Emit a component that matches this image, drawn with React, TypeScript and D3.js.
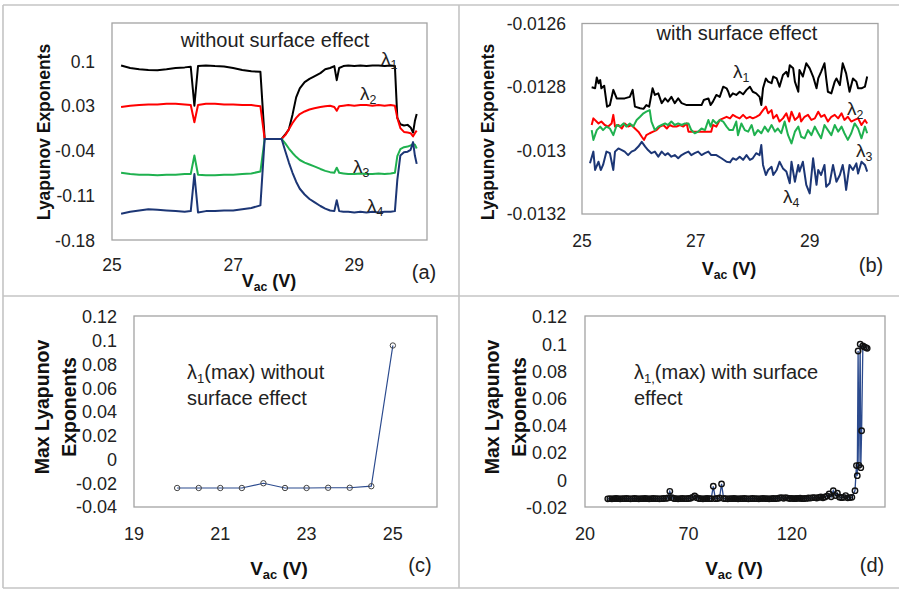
import React from 'react';
import * as d3 from 'd3';

const FONT = "'Liberation Sans', Arial, sans-serif";

// ---------- Panel (a): without surface effect ----------
const aX = [25.15,25.3,25.45,25.6,25.75,25.9,26.05,26.2,26.3,26.36,26.42,26.55,26.7,26.85,27.0,27.15,27.3,27.45,27.52,27.6,27.7,27.8,27.86,27.92,27.98,28.04,28.1,28.18,28.26,28.34,28.44,28.52,28.6,28.67,28.71,28.75,28.82,28.9,29.0,29.1,29.2,29.3,29.4,29.5,29.6,29.67,29.71,29.76,29.82,29.88,29.93,29.97,30.0,30.03];
const aL1 = [0.094,0.090,0.088,0.087,0.0865,0.088,0.090,0.091,0.092,0.031,0.093,0.094,0.093,0.0925,0.090,0.087,0.085,0.084,-0.021,-0.021,-0.021,-0.021,-0.014,-0.006,0.017,0.044,0.058,0.068,0.073,0.077,0.082,0.088,0.090,0.093,0.071,0.090,0.093,0.094,0.093,0.094,0.093,0.094,0.094,0.093,0.094,0.093,0.012,0.002,0.0,0.001,-0.003,-0.011,0.007,0.018];
const aL2 = [0.029,0.031,0.032,0.033,0.033,0.034,0.034,0.033,0.032,0.005,0.032,0.034,0.034,0.033,0.033,0.032,0.032,0.030,-0.021,-0.021,-0.021,-0.021,-0.015,-0.006,0.004,0.012,0.018,0.022,0.025,0.027,0.029,0.030,0.031,0.029,0.023,0.030,0.031,0.032,0.031,0.032,0.032,0.031,0.032,0.031,0.032,0.031,0.012,-0.004,-0.010,-0.011,-0.012,-0.017,-0.012,-0.008];
const aL3 = [-0.074,-0.076,-0.077,-0.077,-0.078,-0.077,-0.077,-0.076,-0.076,-0.047,-0.077,-0.078,-0.078,-0.077,-0.077,-0.076,-0.075,-0.072,-0.021,-0.021,-0.021,-0.021,-0.028,-0.036,-0.043,-0.049,-0.054,-0.058,-0.061,-0.064,-0.068,-0.071,-0.073,-0.074,-0.066,-0.074,-0.075,-0.076,-0.076,-0.075,-0.076,-0.076,-0.075,-0.076,-0.075,-0.074,-0.048,-0.037,-0.034,-0.033,-0.031,-0.029,-0.030,-0.036];
const aL4 = [-0.138,-0.135,-0.133,-0.131,-0.132,-0.133,-0.134,-0.135,-0.134,-0.076,-0.136,-0.134,-0.134,-0.133,-0.133,-0.131,-0.129,-0.125,-0.021,-0.021,-0.021,-0.021,-0.040,-0.058,-0.074,-0.088,-0.099,-0.108,-0.115,-0.120,-0.126,-0.130,-0.133,-0.134,-0.117,-0.134,-0.135,-0.135,-0.136,-0.135,-0.136,-0.135,-0.136,-0.135,-0.135,-0.134,-0.085,-0.047,-0.042,-0.041,-0.038,-0.026,-0.047,-0.060];
const aXTicks = [25, 27, 29];
const aYTicks = [-0.18, -0.11, -0.04, 0.03, 0.1];

// ---------- Panel (b): with surface effect ([V, exponent]) ----------
const bL1 = [[25.17,-0.012800],[25.23,-0.012803],[25.26,-0.012769],[25.29,-0.012787],[25.32,-0.012777],[25.34,-0.012803],[25.39,-0.012795],[25.44,-0.012861],[25.49,-0.012856],[25.55,-0.012808],[25.61,-0.012835],[25.75,-0.012835],[25.84,-0.012830],[25.89,-0.012808],[25.93,-0.012861],[26.02,-0.012866],[26.08,-0.012868],[26.13,-0.012856],[26.18,-0.012861],[26.24,-0.012803],[26.28,-0.012824],[26.34,-0.012819],[26.40,-0.012850],[26.46,-0.012835],[26.51,-0.012845],[26.57,-0.012830],[26.63,-0.012850],[26.69,-0.012835],[26.75,-0.012850],[26.84,-0.012856],[27.10,-0.012856],[27.14,-0.012840],[27.22,-0.012835],[27.26,-0.012856],[27.30,-0.012845],[27.36,-0.012824],[27.42,-0.012830],[27.48,-0.012798],[27.54,-0.012803],[27.57,-0.012814],
  [27.60,-0.012830],[27.65,-0.012819],[27.71,-0.012824],[27.77,-0.012814],[27.83,-0.012822],[27.89,-0.012808],[27.95,-0.012798],[28.00,-0.012814],[28.06,-0.012819],[28.12,-0.012830],[28.15,-0.012856],[28.18,-0.012803],[28.23,-0.012772],[28.27,-0.012782],[28.33,-0.012787],[28.36,-0.012766],[28.42,-0.012772],[28.47,-0.012798],[28.53,-0.012761],[28.59,-0.012751],[28.62,-0.012766],[28.65,-0.012730],[28.71,-0.012740],[28.74,-0.012782],[28.80,-0.012814],[28.82,-0.012745],[28.88,-0.012766],[28.94,-0.012724],[29.00,-0.012740],[29.06,-0.012766],[29.12,-0.012803],[29.15,-0.012772],[29.20,-0.012751],[29.26,-0.012724],[29.29,-0.012772],[29.32,-0.012814],[29.38,-0.012819],[29.44,-0.012782],[29.47,-0.012772],[29.53,-0.012793],[29.58,-0.012724],[29.61,-0.012740],[29.64,-0.012756],[29.70,-0.012814],[29.76,-0.012772],[29.82,-0.012782],[29.85,-0.012803],[29.91,-0.012803],[29.97,-0.012798],[30.01,-0.012766]];
const bL2 = [[25.17,-0.012919],[25.20,-0.012898],[25.29,-0.012914],[25.34,-0.012908],[25.40,-0.012919],[25.46,-0.012924],[25.52,-0.012914],[25.55,-0.012887],[25.58,-0.012924],[25.64,-0.012919],[25.70,-0.012930],[25.75,-0.012914],[25.81,-0.012924],[25.87,-0.012919],[25.93,-0.012930],[25.99,-0.012940],[26.05,-0.012956],[26.09,-0.012966],[26.13,-0.012951],[26.19,-0.012945],[26.25,-0.012940],[26.31,-0.012935],[26.37,-0.012924],[26.43,-0.012919],[26.49,-0.012930],[26.54,-0.012919],[26.60,-0.012924],[26.66,-0.012924],[26.72,-0.012919],[26.78,-0.012924],[26.84,-0.012914],[26.87,-0.012940],[27.27,-0.012940],[27.30,-0.012919],[27.36,-0.012924],[27.42,-0.012903],[27.48,-0.012898],[27.54,-0.012893],
  [27.60,-0.012898],[27.65,-0.012887],[27.71,-0.012893],[27.77,-0.012898],[27.83,-0.012887],[27.89,-0.012898],[27.95,-0.012893],[28.00,-0.012898],[28.06,-0.012893],[28.12,-0.012887],[28.18,-0.012872],[28.23,-0.012861],[28.27,-0.012882],[28.33,-0.012872],[28.36,-0.012898],[28.42,-0.012887],[28.47,-0.012908],[28.53,-0.012898],[28.59,-0.012882],[28.64,-0.012908],[28.68,-0.012877],[28.74,-0.012903],[28.80,-0.012893],[28.82,-0.012882],[28.85,-0.012908],[28.91,-0.012893],[28.97,-0.012887],[29.03,-0.012903],[29.09,-0.012898],[29.15,-0.012877],[29.20,-0.012893],[29.26,-0.012887],[29.32,-0.012908],[29.38,-0.012893],[29.44,-0.012887],[29.50,-0.012898],[29.56,-0.012882],[29.61,-0.012903],[29.67,-0.012893],[29.73,-0.012908],[29.79,-0.012903],[29.85,-0.012898],[29.91,-0.012919],[29.97,-0.012903],[30.01,-0.012914]];
const bL3 = [[25.17,-0.012935],[25.20,-0.012966],[25.26,-0.012935],[25.32,-0.012924],[25.37,-0.012935],[25.43,-0.012924],[25.49,-0.012930],[25.55,-0.012951],[25.61,-0.012919],[25.67,-0.012924],[25.73,-0.012914],[25.78,-0.012924],[25.84,-0.012914],[25.90,-0.012924],[25.96,-0.012903],[26.02,-0.012893],[26.08,-0.012882],[26.13,-0.012877],[26.19,-0.012872],[26.22,-0.012908],[26.28,-0.012935],[26.34,-0.012924],[26.40,-0.012919],[26.46,-0.012914],[26.51,-0.012919],[26.57,-0.012908],[26.63,-0.012919],[26.69,-0.012914],[26.75,-0.012919],[26.81,-0.012914],[26.87,-0.012914],[26.92,-0.012935],[26.98,-0.012945],[27.04,-0.012940],[27.10,-0.012930],[27.16,-0.012935],[27.22,-0.012903],[27.26,-0.012924],[27.30,-0.012903],[27.36,-0.012914],[27.42,-0.012903],[27.48,-0.012908],[27.54,-0.012924],[27.59,-0.012935],
  [27.65,-0.012935],[27.71,-0.012908],[27.74,-0.012951],[27.80,-0.012914],[27.86,-0.012935],[27.92,-0.012940],[27.98,-0.012919],[28.03,-0.012951],[28.09,-0.012935],[28.15,-0.012945],[28.21,-0.012924],[28.27,-0.012940],[28.33,-0.012919],[28.39,-0.012940],[28.44,-0.012930],[28.50,-0.012945],[28.56,-0.012908],[28.62,-0.012951],[28.68,-0.012977],[28.74,-0.012940],[28.80,-0.012924],[28.85,-0.012956],[28.91,-0.012961],[28.97,-0.012935],[29.03,-0.012951],[29.09,-0.012924],[29.15,-0.012945],[29.20,-0.012961],[29.26,-0.012919],[29.32,-0.012935],[29.38,-0.012951],[29.44,-0.012919],[29.50,-0.012940],[29.56,-0.012924],[29.61,-0.012945],[29.67,-0.012966],[29.73,-0.012945],[29.79,-0.012914],[29.85,-0.012930],[29.91,-0.012961],[29.97,-0.012924],[30.01,-0.012945]];
const bL4 = [[25.14,-0.013040],[25.20,-0.013003],[25.23,-0.013061],[25.29,-0.013035],[25.33,-0.013061],[25.37,-0.013045],[25.43,-0.013003],[25.49,-0.013008],[25.55,-0.013061],[25.58,-0.013003],[25.64,-0.012993],[25.70,-0.012998],[25.75,-0.013003],[25.81,-0.013014],[25.87,-0.013003],[25.93,-0.012998],[25.99,-0.012987],[26.05,-0.012972],[26.11,-0.012987],[26.16,-0.012998],[26.22,-0.013008],[26.28,-0.013003],[26.34,-0.013019],[26.40,-0.013003],[26.46,-0.013014],[26.51,-0.013008],[26.57,-0.013019],[26.63,-0.013014],[26.69,-0.013024],[26.75,-0.013014],[26.81,-0.013008],[26.87,-0.013003],[26.92,-0.013014],[26.98,-0.013008],[27.04,-0.013003],[27.10,-0.013014],[27.16,-0.013008],[27.22,-0.013003],[27.27,-0.013014],[27.36,-0.013014],[27.45,-0.013024],[27.54,-0.013035],[27.60,-0.013037],
  [27.65,-0.013024],[27.71,-0.013029],[27.77,-0.013019],[27.83,-0.013029],[27.89,-0.013014],[27.95,-0.013029],[28.00,-0.013024],[28.06,-0.013008],[28.12,-0.013014],[28.15,-0.012982],[28.18,-0.013045],[28.23,-0.013077],[28.27,-0.013061],[28.33,-0.013051],[28.36,-0.013077],[28.42,-0.013061],[28.47,-0.013035],[28.53,-0.013056],[28.59,-0.013066],[28.65,-0.013103],[28.68,-0.013035],[28.74,-0.013098],[28.80,-0.013045],[28.82,-0.013066],[28.88,-0.013035],[28.94,-0.013108],[29.00,-0.013135],[29.06,-0.013024],[29.12,-0.013108],[29.15,-0.013061],[29.20,-0.013077],[29.26,-0.013045],[29.29,-0.013114],[29.35,-0.013103],[29.41,-0.013045],[29.47,-0.013098],[29.53,-0.013077],[29.58,-0.013045],[29.61,-0.013077],[29.64,-0.013124],[29.70,-0.013045],[29.76,-0.013061],[29.82,-0.013040],[29.85,-0.013072],[29.91,-0.013035],[29.97,-0.013045],[30.01,-0.013066]];
const bXTicks = [25, 27, 29];
const bYTicks = [-0.0132, -0.013, -0.0128, -0.0126];

// ---------- Panel (c): max exponent without surface effect ----------
const cX = [20, 20.5, 21, 21.5, 22, 22.5, 23, 23.5, 24, 24.5, 25];
const cY = [-0.024, -0.024, -0.024, -0.024, -0.020, -0.024, -0.024, -0.0238, -0.0238, -0.0225, 0.096];
const cXTicks = [19, 21, 23, 25];
const cYTicks = [-0.04, -0.02, 0, 0.02, 0.04, 0.06, 0.08, 0.1, 0.12];

// ---------- Panel (d): max exponent with surface effect ----------
const dBaseX = [31,32,33,34,35,36,37,38,39,40,41,42,43,44,45,46,47,48,49,50,51,52,53,54,55,56,57,58,59,60,61,62,63,64,65,66,67,68,69,70,71,72,73,74,75,76,77,78,79,80,81,82,83,84,85,86,87,88,89,90,91,92,93,94,95,96,97,98,99,100,101,102,103,104,105,106,107,108,109,110,111,112,113,114,115,116,117,118,119,120,121,122,123,124,125,126,127,128,129,130,131,132,133,134,135,136,137,138,139,140,141,142,143,144,145,146,147,148,149];
const dBaseY = [
  -0.0136,-0.0135,-0.0136,-0.0135,-0.0134,-0.0135,-0.0136,-0.0135,-0.0135,-0.0134,
  -0.0135,-0.0136,-0.0135,-0.0134,-0.0135,-0.0136,-0.0135,-0.0135,-0.0134,-0.0135,
  -0.0136,-0.0135,-0.0134,-0.0135,-0.0135,-0.0136,-0.0135,-0.0134,-0.0133,-0.0130,
  -0.0081,-0.0128,-0.0134,-0.0135,-0.0136,-0.0135,-0.0134,-0.0135,-0.0135,-0.0134,
  -0.0132,-0.0125,-0.0115,-0.0128,-0.0134,-0.0135,-0.0136,-0.0135,-0.0134,-0.0135,
  -0.0135,-0.0044,-0.0135,-0.0134,-0.0130,-0.0027,-0.0134,-0.0135,-0.0136,-0.0135,
  -0.0135,-0.0134,-0.0135,-0.0136,-0.0135,-0.0135,-0.0134,-0.0135,-0.0136,-0.0135,
  -0.0134,-0.0135,-0.0135,-0.0136,-0.0135,-0.0134,-0.0135,-0.0135,-0.0136,-0.0135,
  -0.0134,-0.0135,-0.0133,-0.0130,-0.0128,-0.0132,-0.0127,-0.0131,-0.0134,-0.0133,
  -0.0135,-0.0134,-0.0133,-0.0132,-0.0135,-0.0134,-0.0133,-0.0130,-0.0131,-0.0128,
  -0.0127,-0.0131,-0.0126,-0.0122,-0.0129,-0.0123,-0.0116,-0.0100,-0.0121,-0.0076,
  -0.0112,-0.0095,-0.0124,-0.0128,-0.0126,-0.0112,-0.0129,-0.0127,-0.0125];
const dJumpX = [150.5, 151.2, 151.6, 152.0, 152.4, 153.0, 153.3, 153.7, 154.3, 155.0, 155.8, 156.4];
const dJumpY = [-0.0076, 0.0108, 0.0034, 0.095, 0.011, 0.100, 0.0093, 0.0364, 0.0987, 0.098, 0.0975, 0.097];
const dXTicks = [20, 70, 120];
const dYTicks = [-0.02, 0, 0.02, 0.04, 0.06, 0.08, 0.1, 0.12];

const BLACK = '#000000';
const RED = '#ff0000';
const GREEN = '#1fb14f';
const NAVY = '#1c3675';
const LINE_CD = '#2b4a8e';

function Frame({ sx, sy, x0, x1, y0, y1, xTicks, yTicks, xLabY, yLabX, fs }: any) {
  return (
    <g>
      <rect x={x0} y={y0} width={x1 - x0} height={y1 - y0} fill="none" stroke="#a3a3a3" strokeWidth={1.3} />
      {xTicks.map((t: number) => (
        <text key={'x' + t} x={sx(t)} y={xLabY} textAnchor="middle" fontSize={fs} fill="#222">{String(t)}</text>
      ))}
      {yTicks.map((t: number) => (
        <text key={'y' + t} x={yLabX} y={sy(t)} dy="0.35em" textAnchor="end" fontSize={fs} fill="#222">{String(t)}</text>
      ))}
    </g>
  );
}

function Lam({ x, y, sub, fs = 19 }: any) {
  return (
    <text x={x} y={y} fontSize={fs} fill="#222">λ<tspan fontSize={fs * 0.65} dy={4}>{sub}</tspan></text>
  );
}

function VacTitle({ x, y, fs }: any) {
  return (
    <text x={x} y={y} textAnchor="middle" fontSize={fs} fontWeight="bold" fill="#111">
      V<tspan fontSize={fs * 0.68} dy={4}>ac</tspan><tspan dy={-4}> (V)</tspan>
    </text>
  );
}

export default function App() {
  const ax = d3.scaleLinear().domain([25, 30.2]).range([112, 427]);
  const ay = d3.scaleLinear().domain([-0.18, 0.16]).range([240.5, 23.3]);
  const aLine = (ys: number[]) => d3.line<number>().x((_, i) => ax(aX[i])).y((d) => ay(d))(ys) || '';

  const bx = d3.scaleLinear().domain([25, 30.2]).range([582, 878]);
  const by = d3.scaleLinear().domain([-0.0132, -0.0126]).range([214, 24]);
  const bLine = (pts: number[][]) => d3.line<number[]>().x((d) => bx(d[0])).y((d) => by(d[1]))(pts) || '';

  const cx = d3.scaleLinear().domain([19, 26]).range([134, 436]);
  const cy = d3.scaleLinear().domain([-0.04, 0.12]).range([507, 317]);
  const cPath = d3.line<number>().x((_, i) => cx(cX[i])).y((d) => cy(d))(cY) || '';

  const dx = d3.scaleLinear().domain([20, 165]).range([585, 885]);
  const dy = d3.scaleLinear().domain([-0.02, 0.12]).range([507.5, 317]);
  const dAllX = dBaseX.concat(dJumpX);
  const dAllY = dBaseY.concat(dJumpY);
  const dPath = d3.line<number>().x((_, i) => dx(dAllX[i])).y((d) => dy(d))(dAllY) || '';

  return (
    <svg width={899} height={589} style={{ position: 'absolute', left: 0, top: 0, background: '#fff' }} fontFamily={FONT}>
      <rect x={0} y={0} width={899} height={589} fill="#fff" />
      <g stroke="#c4c4c4" strokeWidth={1.6} fill="none">
        <line x1={3} y1={5} x2={899} y2={5} />
        <line x1={3} y1={5} x2={3} y2={588} />
        <line x1={459} y1={5} x2={459} y2={588} />
        <line x1={3} y1={296} x2={899} y2={296} />
        <line x1={3} y1={588} x2={899} y2={588} />
      </g>

      {/* (a) */}
      <Frame sx={ax} sy={ay} x0={112} x1={427} y0={23} y1={240} xTicks={aXTicks} yTicks={aYTicks} xLabY={271} yLabX={95} fs={17.5} />
      <g fill="none" strokeWidth={2} strokeLinejoin="round">
        <path d={aLine(aL1)} stroke={BLACK} />
        <path d={aLine(aL2)} stroke={RED} />
        <path d={aLine(aL3)} stroke={GREEN} />
        <path d={aLine(aL4)} stroke={NAVY} />
      </g>
      <text x={275} y={47} textAnchor="middle" fontSize={20} fill="#222">without surface effect</text>
      <Lam x={381} y={65} sub="1" />
      <Lam x={360} y={100} sub="2" />
      <Lam x={353} y={173} sub="3" />
      <Lam x={367} y={212} sub="4" />
      <text transform="translate(44,132) rotate(-90)" textAnchor="middle" dy="0.35em" fontSize={17.5} fontWeight="bold" fill="#111">Lyapunov Exponents</text>
      <VacTitle x={269} y={287} fs={18} />
      <text x={424} y={279} textAnchor="middle" fontSize={20} fill="#222">(a)</text>

      {/* (b) */}
      <Frame sx={bx} sy={by} x0={582} x1={878} y0={23.5} y1={214} xTicks={bXTicks} yTicks={bYTicks} xLabY={247} yLabX={566} fs={17.5} />
      <g fill="none" strokeWidth={2} strokeLinejoin="round">
        <path d={bLine(bL1)} stroke={BLACK} />
        <path d={bLine(bL2)} stroke={RED} />
        <path d={bLine(bL3)} stroke={GREEN} />
        <path d={bLine(bL4)} stroke={NAVY} />
      </g>
      <text x={737} y={40} textAnchor="middle" fontSize={20} fill="#222">with surface effect</text>
      <Lam x={733} y={78} sub="1" />
      <Lam x={847} y={115} sub="2" />
      <Lam x={856} y={157} sub="3" />
      <Lam x={783} y={203} sub="4" />
      <text transform="translate(488,132) rotate(-90)" textAnchor="middle" dy="0.35em" fontSize={17.5} fontWeight="bold" fill="#111">Lyapunov Exponents</text>
      <VacTitle x={729} y={275} fs={18} />
      <text x={871} y={272} textAnchor="middle" fontSize={20} fill="#222">(b)</text>

      {/* (c) */}
      <Frame sx={cx} sy={cy} x0={134} x1={437} y0={316} y1={507} xTicks={cXTicks} yTicks={cYTicks} xLabY={540} yLabX={117} fs={18} />
      <path d={cPath} fill="none" stroke={LINE_CD} strokeWidth={1.2} />
      {cX.map((v, i) => (
        <circle key={i} cx={cx(v)} cy={cy(cY[i])} r={2.7} fill="none" stroke="#444" strokeWidth={1} />
      ))}
      <text x={187} y={379} fontSize={20} fill="#222">λ<tspan fontSize={13} dy={4}>1</tspan><tspan dy={-4}>(max) without</tspan></text>
      <text x={187} y={405} fontSize={20} fill="#222">surface effect</text>
      <text transform="translate(42,407) rotate(-90)" textAnchor="middle" dy="0.35em" fontSize={19.5} fontWeight="bold" fill="#111">Max Lyapunov</text>
      <text transform="translate(69,407) rotate(-90)" textAnchor="middle" dy="0.35em" fontSize={19.5} fontWeight="bold" fill="#111">Exponents</text>
      <VacTitle x={279} y={575} fs={19} />
      <text x={420} y={572} textAnchor="middle" fontSize={20} fill="#222">(c)</text>

      {/* (d) */}
      <Frame sx={dx} sy={dy} x0={585} x1={885} y0={316} y1={507} xTicks={dXTicks} yTicks={dYTicks} xLabY={540} yLabX={567} fs={18} />
      <path d={dPath} fill="none" stroke={LINE_CD} strokeWidth={1.3} />
      {dAllX.map((v, i) => (
        <circle key={i} cx={dx(v)} cy={dy(dAllY[i])} r={2.7} fill="none" stroke="#111" strokeWidth={1.4} />
      ))}
      <text x={634} y={379} fontSize={20} fill="#222">λ<tspan fontSize={13} dy={4}>1,</tspan><tspan dy={-4}>(max) with surface</tspan></text>
      <text x={634} y={405} fontSize={20} fill="#222">effect</text>
      <text transform="translate(492,407) rotate(-90)" textAnchor="middle" dy="0.35em" fontSize={19.5} fontWeight="bold" fill="#111">Max Lyapunov</text>
      <text transform="translate(519,407) rotate(-90)" textAnchor="middle" dy="0.35em" fontSize={19.5} fontWeight="bold" fill="#111">Exponents</text>
      <VacTitle x={734} y={575} fs={19} />
      <text x={872} y={572} textAnchor="middle" fontSize={20} fill="#222">(d)</text>
    </svg>
  );
}
